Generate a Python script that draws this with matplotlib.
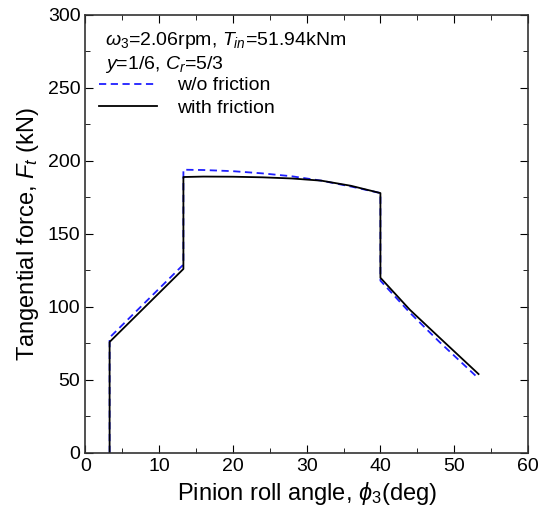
import matplotlib
matplotlib.use("Agg")
import matplotlib.pyplot as plt
from matplotlib.ticker import MultipleLocator

plt.rcParams['font.family'] = ['Liberation Sans', 'DejaVu Sans']
plt.rcParams['mathtext.fontset'] = 'custom'
plt.rcParams['mathtext.rm'] = 'Liberation Sans'
plt.rcParams['mathtext.it'] = 'Liberation Sans:italic'

# roll angle (deg) and tangential force (kN)
phi_nf = [3.3, 3.3, 13.3, 13.3, 16, 20, 24, 28, 32, 36, 40, 40, 44, 48, 53.3]
ft_nf = [0, 79, 129, 194, 193.8, 193, 191.5, 189.5, 186.5, 182.5, 178, 118, 96, 76, 51]

phi_wf = [3.3, 3.3, 13.3, 13.3, 16, 20, 24, 28, 32, 36, 40, 40, 44, 48, 53.3]
ft_wf = [0, 76, 126, 189, 189.3, 189.2, 188.8, 188, 186.5, 183, 178, 120, 98, 79, 54]

fig = plt.figure(figsize=(5.5, 5.17), dpi=100)
ax = fig.add_axes([0.155, 0.124, 0.805, 0.847])

ax.plot(phi_nf, ft_nf, color='#1f1fff', linestyle='--', linewidth=1.3, dashes=(4, 2.5), label='w/o friction')
ax.plot(phi_wf, ft_wf, color='black', linewidth=1.3, label='with friction')

ax.set_xlim(0, 60)
ax.set_ylim(0, 300)
ax.xaxis.set_major_locator(MultipleLocator(10))
ax.xaxis.set_minor_locator(MultipleLocator(5))
ax.yaxis.set_major_locator(MultipleLocator(50))
ax.yaxis.set_minor_locator(MultipleLocator(25))
ax.tick_params(which='both', direction='in', top=True, right=True, labelsize=14)
ax.tick_params(which='major', length=6)
ax.tick_params(which='minor', length=3.5)
for s in ax.spines.values():
    s.set_linewidth(1.2)
    s.set_color('#333333')

ax.set_xlabel(r'Pinion roll angle, $\phi_3$(deg)', fontsize=17, labelpad=4)
ax.set_ylabel(r'Tangential force, $F_t$ (kN)', fontsize=17, labelpad=5)

ax.text(0.045, 0.965, r'$\omega_3$=2.06rpm, $T_{in}$=51.94kNm' + '\n' + r'$y$=1/6, $C_r$=5/3',
        transform=ax.transAxes, fontsize=14, va='top', linespacing=1.15)
ax.legend(loc='upper left', bbox_to_anchor=(0.0, 0.89), frameon=False, fontsize=14,
          handlelength=3.0, handletextpad=1.0, labelspacing=0.25, borderaxespad=0.3)

fig.savefig('out.png', dpi=100)
